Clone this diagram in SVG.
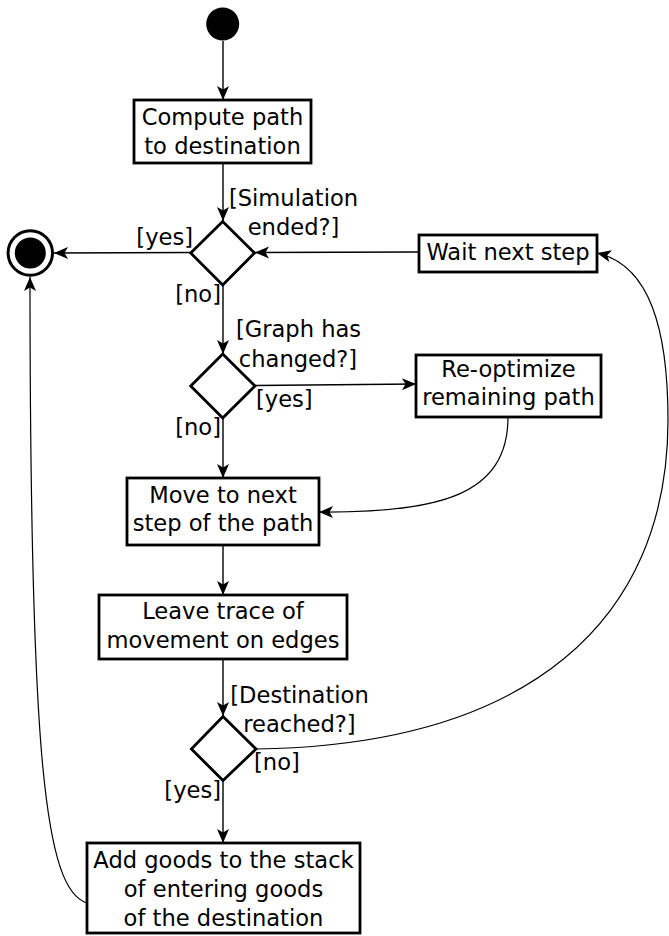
<svg xmlns="http://www.w3.org/2000/svg" width="669" height="936" viewBox="0 0 669 936">
<defs>
<marker id="arr" markerUnits="userSpaceOnUse" markerWidth="18" markerHeight="16" viewBox="-16 -8 18 16" refX="0" refY="0" orient="auto">
<path d="M0,0 L-14,-6 L-10.5,0 L-14,6 Z" fill="#000"/>
</marker>
</defs>
<style>
text{font-family:"DejaVu Sans","Liberation Sans",sans-serif;font-size:22.6px;fill:#000}
.c{text-anchor:middle}
.e{text-anchor:end}
.box{fill:#fff;stroke:#000;stroke-width:2.8}
.dia{fill:#fff;stroke:#000;stroke-width:2.8}
.ln{fill:none;stroke:#000;stroke-width:1.4;marker-end:url(#arr)}
.cv{fill:none;stroke:#000;stroke-width:1.2;marker-end:url(#arr)}
</style>
<rect width="669" height="936" fill="#fff"/>
<g id="connectors">
<path class="ln" d="M223,41 L223,100"/>
<path class="ln" d="M223,163 L223,221"/>
<path class="ln" d="M191,252.5 L54,253"/>
<path class="ln" d="M419,252 L255,252.5"/>
<path class="ln" d="M223,285 L223,354"/>
<path class="ln" d="M255,385.5 L416,384"/>
<path class="ln" d="M223,418 L223,478"/>
<path class="cv" d="M508,417 C508,495 440,513 319,512"/>
<path class="ln" d="M223,546 L223,595"/>
<path class="ln" d="M223,659 L223,716"/>
<path class="ln" d="M223,780 L223,843"/>
<path class="cv" d="M256,749 C530,745 668,620 668,420 C668,330 650,265 597,253"/>
<path class="cv" d="M87,903 C45,890 30,760 30,277"/>
</g>
<g id="start"><circle cx="222.7" cy="24" r="16.5" fill="#000"/></g>
<g id="end"><circle cx="30.3" cy="253" r="22.2" fill="#fff" stroke="#000" stroke-width="3"/><circle cx="30.3" cy="253" r="15.5" fill="#000"/></g>
<g id="compute"><rect class="box" x="134" y="100" width="177" height="63"/><text class="c" x="222.5" y="125">Compute path</text><text class="c" x="222.5" y="154">to destination</text></g>
<g id="dec1"><path class="dia" d="M222.7,221.5 L254.5,253 L222.7,285 L190.7,253 Z"/><text class="c" x="293.5" y="206">[Simulation</text><text class="c" x="293.5" y="235">ended?]</text><text class="e" x="193" y="245">[yes]</text><text class="e" x="221" y="302">[no]</text></g>
<g id="wait"><rect class="box" x="419" y="235" width="178" height="37"/><text class="c" x="508" y="260">Wait next step</text></g>
<g id="dec2"><path class="dia" d="M222.7,354 L255,386 L222.7,418 L190.7,386 Z"/><text class="c" x="298.5" y="337">[Graph has</text><text class="c" x="298" y="366.7">changed?]</text><text x="256" y="406.7">[yes]</text><text class="e" x="221" y="435">[no]</text></g>
<g id="reopt"><rect class="box" x="416" y="355" width="185" height="62"/><text class="c" x="508.5" y="376.7">Re-optimize</text><text class="c" x="508.5" y="405">remaining path</text></g>
<g id="move"><rect class="box" x="127" y="478" width="192" height="67"/><text class="c" x="223" y="503">Move to next</text><text class="c" x="223" y="531">step of the path</text></g>
<g id="leave"><rect class="box" x="99" y="595" width="248" height="64"/><text class="c" x="223" y="619">Leave trace of</text><text class="c" x="223" y="647.7">movement on edges</text></g>
<g id="dec3"><path class="dia" d="M223,716.5 L256,749 L223,780.5 L191.4,749 Z"/><text class="c" x="299.5" y="703">[Destination</text><text class="c" x="299.5" y="732">reached?]</text><text x="254" y="770">[no]</text><text class="e" x="221" y="798">[yes]</text></g>
<g id="addgoods"><rect class="box" x="87" y="843" width="273" height="90"/><text class="c" x="223.5" y="868">Add goods to the stack</text><text class="c" x="223.5" y="897">of entering goods</text><text class="c" x="223.5" y="926">of the destination</text></g>
</svg>
